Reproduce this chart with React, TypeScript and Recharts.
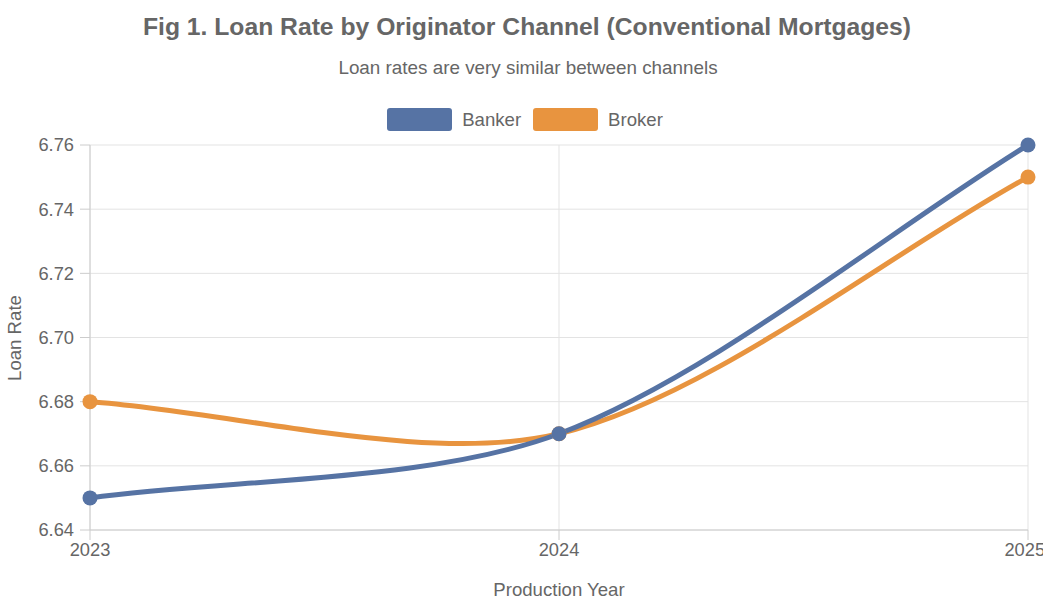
import { LineChart, Line, XAxis, YAxis, CartesianGrid } from 'recharts'

const years = [2023, 2024, 2025]
const banker = [6.65, 6.67, 6.76]
const broker = [6.68, 6.67, 6.75]
const yTicks = [6.64, 6.66, 6.68, 6.7, 6.72, 6.74, 6.76]

const BLUE = '#5673a4'
const ORANGE = '#e8943f'
const FONT = '"Liberation Sans", Arial, sans-serif'

const data = years.map((year, i) => ({ year, banker: banker[i], broker: broker[i] }))

// spline with tension, control points scaled by neighbour distances
function tensionCurve(tension: number) {
  return (context: any) => {
    let pts: [number, number][] = []
    return {
      areaStart() {},
      areaEnd() {},
      lineStart() {
        pts = []
      },
      point(x: number, y: number) {
        pts.push([+x, +y])
      },
      lineEnd() {
        const n = pts.length
        if (!n) return
        context.moveTo(pts[0][0], pts[0][1])
        if (n === 1) return
        const cps = pts.map((p, i) => {
          const prev = pts[i - 1] ?? p
          const next = pts[i + 1] ?? p
          const d01 = Math.hypot(p[0] - prev[0], p[1] - prev[1])
          const d12 = Math.hypot(next[0] - p[0], next[1] - p[1])
          const s01 = d01 + d12 ? d01 / (d01 + d12) : 0
          const s12 = d01 + d12 ? d12 / (d01 + d12) : 0
          const dx = next[0] - prev[0]
          const dy = next[1] - prev[1]
          return {
            before: [p[0] - tension * s01 * dx, p[1] - tension * s01 * dy],
            after: [p[0] + tension * s12 * dx, p[1] + tension * s12 * dy],
          }
        })
        for (let i = 1; i < n; i++) {
          context.bezierCurveTo(
            cps[i - 1].after[0],
            cps[i - 1].after[1],
            cps[i].before[0],
            cps[i].before[1],
            pts[i][0],
            pts[i][1]
          )
        }
      },
    }
  }
}

const curve = tensionCurve(0.3)

export default function App() {
  return (
    <div style={{ position: 'absolute', left: 0, top: 0, width: 1043, height: 600, overflow: 'hidden', fontFamily: FONT, background: '#fff' }}>
      {/* Titles */}
      <div style={{ position: 'absolute', top: 13, width: 1054, textAlign: 'center', fontSize: 24.7, fontWeight: 'bold', color: '#666' }}>
        Fig 1. Loan Rate by Originator Channel (Conventional Mortgages)
      </div>
      <div style={{ position: 'absolute', top: 57, width: 1056, textAlign: 'center', fontSize: 18.85, color: '#666' }}>
        Loan rates are very similar between channels
      </div>

      {/* Legend */}
      <div style={{ position: 'absolute', top: 108, width: 1050, display: 'flex', justifyContent: 'center', gap: 12, fontSize: 18.6, color: '#666' }}>
        {[
          { name: 'Banker', color: BLUE },
          { name: 'Broker', color: ORANGE },
        ].map((s) => (
          <span key={s.name} style={{ display: 'flex', alignItems: 'center', gap: 10 }}>
            <span style={{ display: 'inline-block', width: 65, height: 23, background: s.color, borderRadius: 3 }} />
            {s.name}
          </span>
        ))}
      </div>

      {/* Y axis title */}
      <div
        style={{
          position: 'absolute',
          left: 15,
          top: 338,
          transform: 'translate(-50%, -50%) rotate(-90deg)',
          fontSize: 18.6,
          color: '#666',
          whiteSpace: 'nowrap',
        }}
      >
        Loan Rate
      </div>

      <div style={{ position: 'absolute', left: 0, top: 0 }}>
        <LineChart width={1043} height={600} data={data} margin={{ top: 145, right: 15, bottom: 0, left: 0 }}>
          <CartesianGrid stroke="#e3e3e3" />
          <XAxis
            dataKey="year"
            type="number"
            domain={[2023, 2025]}
            ticks={years}
            height={70}
            stroke="#ccc"
            tickSize={10}
            tickMargin={3}
            tick={{ fontSize: 18.3, fill: '#666', fontFamily: FONT }}
            label={{ value: 'Production Year', position: 'insideBottom', offset: 4, fontSize: 18.6, fill: '#666', fontFamily: FONT }}
          />
          <YAxis
            domain={[6.64, 6.76]}
            ticks={yTicks}
            width={90}
            stroke="#ccc"
            tickSize={10}
            tickMargin={6}
            tickFormatter={(v: number) => v.toFixed(2)}
            tick={{ fontSize: 18.3, fill: '#666', fontFamily: FONT }}
          />
          <Line
            type={curve as any}
            dataKey="broker"
            stroke={ORANGE}
            strokeWidth={5}
            dot={{ r: 7.5, fill: ORANGE, stroke: ORANGE, strokeWidth: 0 }}
            activeDot={false}
            isAnimationActive={false}
          />
          <Line
            type={curve as any}
            dataKey="banker"
            stroke={BLUE}
            strokeWidth={5}
            dot={{ r: 7.5, fill: BLUE, stroke: BLUE, strokeWidth: 0 }}
            activeDot={false}
            isAnimationActive={false}
          />
        </LineChart>
      </div>
    </div>
  )
}
